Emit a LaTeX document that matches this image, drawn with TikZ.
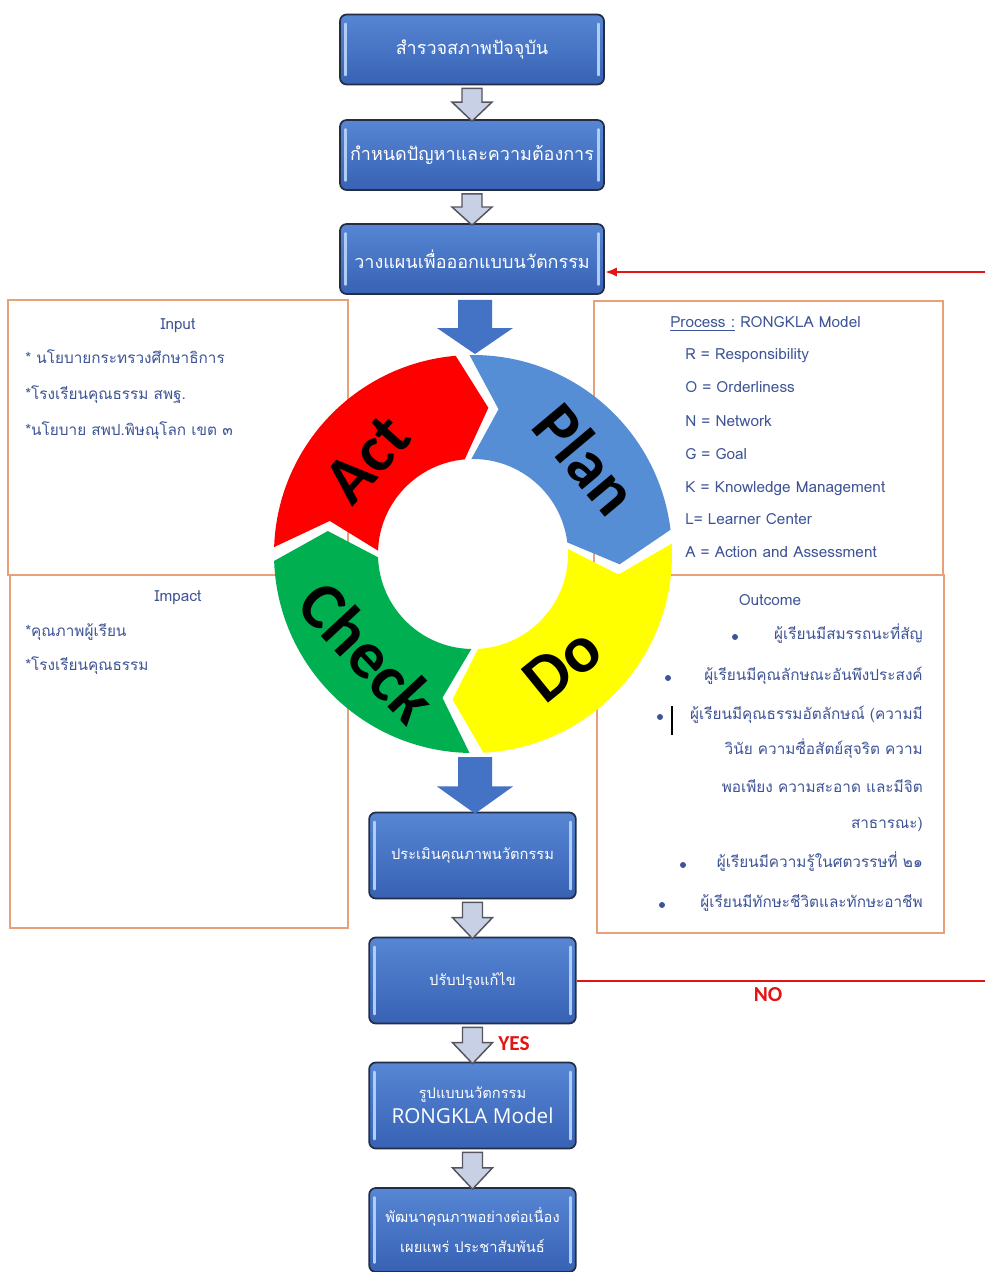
\documentclass[tikz,border=0pt]{standalone}
\usepackage{fontspec}
\usetikzlibrary{calc,arrows.meta}
\newfontfamily\thai[Script=Thai]{Loma}
\newfontfamily\carlito{Carlito}
\newfontfamily\opensans{Open Sans}
\definecolor{boxtop}{RGB}{86,134,212}
\definecolor{boxbot}{RGB}{56,98,180}
\definecolor{boxedge}{RGB}{35,45,70}
\definecolor{bevel}{RGB}{175,205,245}
\definecolor{harrfill}{RGB}{200,208,230}
\definecolor{harredge}{RGB}{85,85,95}
\definecolor{panelline}{RGB}{232,160,120}
\definecolor{txt}{RGB}{62,84,150}
\definecolor{planblue}{RGB}{85,142,213}
\definecolor{actred}{RGB}{255,0,0}
\definecolor{checkgreen}{RGB}{0,176,80}
\definecolor{doyellow}{RGB}{255,255,0}
\definecolor{arrowblue}{RGB}{68,114,196}
\definecolor{linered}{RGB}{228,20,20}
\tikzset{
  flowbox/.style={draw=boxedge, line width=1.3pt, rounded corners=5pt,
    top color=boxtop, bottom color=boxbot, text=white, align=center,
    inner sep=0pt, minimum width=198pt, minimum height=52.5pt,
    font=\thai\fontsize{13.5}{17}\selectfont,
    path picture={
      \draw[bevel, line width=1.8pt, line cap=round]
        ([xshift=4pt,yshift=-7pt]path picture bounding box.north west) --
        ([xshift=4pt,yshift=7pt]path picture bounding box.south west);
      \draw[bevel, line width=1.8pt, line cap=round]
        ([xshift=-4pt,yshift=-7pt]path picture bounding box.north east) --
        ([xshift=-4pt,yshift=7pt]path picture bounding box.south east);}},
  smallbox/.style={flowbox, minimum width=155pt, minimum height=64.5pt,
    font=\thai\fontsize{11}{20}\selectfont},
  panel/.style={draw=panelline, line width=0.9pt},
  paneltxt/.style={text=txt, font=\thai\fontsize{11.5}{14}\selectfont, inner sep=0pt},
  hollowarr/.style={draw=harredge, line width=1.1pt, fill=harrfill, line join=miter},
  ringtxt/.style={font=\carlito\bfseries\fontsize{50}{50}\selectfont, text=black, inner sep=0pt},
  redline/.style={draw=linered, line width=2.2pt},
  redlabel/.style={text=linered, font=\carlito\bfseries\fontsize{16}{16}\selectfont, inner sep=0pt}
}
\newcommand\harrow[2]{%
  \coordinate (h1) at ($(#1.south)+(0,-3)$);
  \coordinate (h2) at ($(#2.north)+(0,-2)$);
  \coordinate (hm) at ($(h1)!0.42!(h2)$);
  \draw[hollowarr] ($(h1)+(-10,0)$) -- ($(h1)+(10,0)$) -- ($(hm)+(10,0)$) --
    ($(hm)+(20,0)$) -- (h2) -- ($(hm)+(-20,0)$) -- ($(hm)+(-10,0)$) -- cycle;}
\newcommand\bigarrow[2]{%
  \fill[arrowblue] ($(#1)+(-17,0)$) -- ($(#1)+(17,0)$) -- ($(#1)!0.52!(#2)+(17,0)$) --
    ($(#1)!0.52!(#2)+(38,0)$) -- (#2) -- ($(#1)!0.52!(#2)+(-38,0)$) --
    ($(#1)!0.52!(#2)+(-17,0)$) -- cycle;}
\newcommand\seg[3]{%
  \fill[#1] (#2:199) arc[start angle=#2, end angle=#3, radius=199] --
    ({#3-11}:147) -- (#3:95) arc[start angle=#3, end angle=#2, radius=95] --
    ({#2-11}:147) -- cycle;}
\begin{document}
\begin{tikzpicture}[x=0.75pt,y=0.75pt]
\useasboundingbox[fill=white] (0,0) rectangle (985,-1272);

% panels
\draw[panel] (8,-300) rectangle (348,-575);
\draw[panel] (10,-575) rectangle (348,-928);
\draw[panel] (594,-301) rectangle (943,-575);
\draw[panel] (597,-575) rectangle (944,-933);

% panel texts
\node[paneltxt] (inT) at (178,-326) {Input};
\node[paneltxt, anchor=mid west] (in1) at (25,-361) {* นโยบายกระทรวงศึกษาธิการ};
\node[paneltxt, anchor=mid west] (in2) at (25,-397) {*โรงเรียนคุณธรรม สพฐ.};
\node[paneltxt, anchor=mid west] (in3) at (25,-433) {*นโยบาย สพป.พิษณุโลก เขต ๓};

\node[paneltxt] (imT) at (178,-598) {Impact};
\node[paneltxt, anchor=mid west] (im1) at (25,-634) {*คุณภาพผู้เรียน};
\node[paneltxt, anchor=mid west] (im2) at (25,-668) {*โรงเรียนคุณธรรม};

\node[paneltxt, anchor=mid west] (prT) at (670,-325) {\underline{Process :} RONGKLA Model};
\node[paneltxt, anchor=mid west] (pr1) at (685,-357) {R = Responsibility};
\node[paneltxt, anchor=mid west] (pr2) at (685,-390) {O = Orderliness};
\node[paneltxt, anchor=mid west] (pr3) at (685,-424) {N = Network};
\node[paneltxt, anchor=mid west] (pr4) at (685,-457) {G = Goal};
\node[paneltxt, anchor=mid west] (pr5) at (685,-490) {K = Knowledge Management};
\node[paneltxt, anchor=mid west] (pr6) at (685,-522) {L= Learner Center};
\node[paneltxt, anchor=mid west] (pr7) at (685,-555) {A = Action and Assessment};

\node[paneltxt] (ouT) at (770,-600) {Outcome};
\foreach \bx/\by in {735/637, 668/678, 660/717, 683/865, 662/905}
  \fill[txt] (\bx,-\by) circle (3);
\node[paneltxt, anchor=mid east] (ou1) at (923,-637) {ผู้เรียนมีสมรรถนะที่สัญ};
\node[paneltxt, anchor=mid east] (ou2) at (923,-678) {ผู้เรียนมีคุณลักษณะอันพึงประสงค์};
\node[paneltxt, anchor=mid east] (ou3) at (923,-717) {ผู้เรียนมีคุณธรรมอัตลักษณ์ (ความมี};
\node[paneltxt, anchor=mid east] (ou4) at (923,-752) {วินัย ความซื่อสัตย์สุจริต ความ};
\node[paneltxt, anchor=mid east] (ou5) at (923,-790) {พอเพียง ความสะอาด และมีจิต};
\node[paneltxt, anchor=mid east] (ou6) at (923,-826) {สาธารณะ)};
\node[paneltxt, anchor=mid east] (ou7) at (923,-865) {ผู้เรียนมีความรู้ในศตวรรษที่ ๒๑};
\node[paneltxt, anchor=mid east] (ou8) at (923,-905) {ผู้เรียนมีทักษะชีวิตและทักษะอาชีพ};
\draw[black, line width=1pt] (672,-706) -- (672,-735);

% flow boxes
\node[flowbox] (b1) at (472,-49.5) {สำรวจสภาพปัจจุบัน};
\node[flowbox] (b2) at (472,-155) {กำหนดปัญหาและความต้องการ};
\node[flowbox] (b3) at (472,-259) {วางแผนเพื่อออกแบบนวัตกรรม};
\node[smallbox] (b4) at (472.5,-855.5) {ประเมินคุณภาพนวัตกรรม};
\node[smallbox] (b5) at (472.5,-980.5) {ปรับปรุงแก้ไข};
\node[smallbox] (b6) at (472.5,-1105.5) {รูปแบบนวัตกรรม\\[-1pt]{\opensans\fontsize{15.5}{17}\selectfont RONGKLA Model}};
\node[smallbox, minimum height=63pt] (b7) at (472.5,-1230) {พัฒนาคุณภาพอย่างต่อเนื่อง\\[2pt]เผยแพร่ ประชาสัมพันธ์};

\harrow{b1}{b2}
\harrow{b2}{b3}
\harrow{b4}{b5}
\harrow{b5}{b6}
\harrow{b6}{b7}

% PDCA ring
\begin{scope}[shift={(473,-554)}]
  \seg{planblue}{91}{7}
  \seg{doyellow}{3}{-87}
  \seg{checkgreen}{-91}{-178}
  \seg{actred}{178}{95}
  \node[ringtxt, rotate=-50] (plan) at (40:148) {Plan};
  \node[ringtxt, rotate=39] (do) at (-51:142) {Do};
  \node[ringtxt, rotate=-47] (check) at (-137:144) {Check};
  \node[ringtxt, rotate=48] (act) at (138:142) {Act};
\end{scope}

% big blue arrows
\coordinate (bt1) at ($(b3.south)+(3,-5)$);
\coordinate (ringtop) at (475,-354);
\bigarrow{bt1}{ringtop}
\coordinate (ringbot) at (475,-757);
\coordinate (bt2) at ($(b4.north)+(2.5,-2)$);
\bigarrow{ringbot}{bt2}

% feedback lines
\coordinate (r1) at (985,-272);
\coordinate (r2) at (985,-981);
\draw[redline, -{Latex[length=9pt,width=7pt]}] (r1) -- (r1 -| b3.east);
\draw[redline] (b5.east |- r2) -- (r2);
\node[redlabel] (no) at (768,-995) {NO};
\node[redlabel] (yes) at (514,-1044) {YES};
\end{tikzpicture}
\end{document}
